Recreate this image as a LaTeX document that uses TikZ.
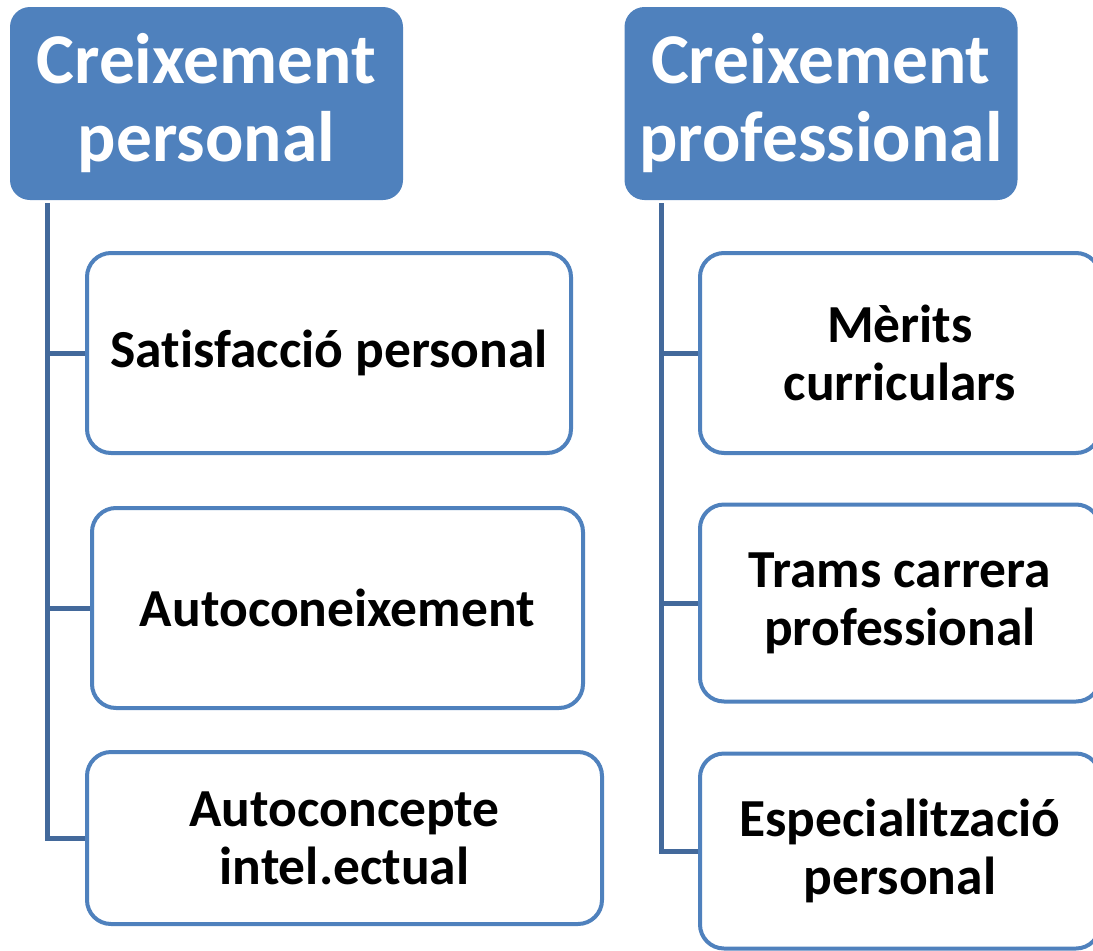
\documentclass[tikz,border=0pt]{standalone}
\usepackage{fontspec}
\setmainfont{Carlito}[Ligatures={NoCommon}]
\definecolor{hdr}{HTML}{4F81BD}
\definecolor{edge}{HTML}{4F81BD}
\definecolor{conn}{HTML}{43699B}
\begin{document}
\begin{tikzpicture}[x=1pt,y=-1pt,
  header/.style={fill=hdr,draw=none,rounded corners=20pt,text=white,
    font=\fontsize{71.5}{78}\selectfont\bfseries,align=center,inner sep=0pt,
    minimum width=393pt,minimum height=193pt},
  item/.style={draw=edge,line width=4pt,fill=white,rounded corners=24pt,
    font=\fontsize{53.5}{58}\selectfont\bfseries,align=center,inner sep=0pt},
  link/.style={draw=conn,line width=5pt}]
\useasboundingbox (0,0) rectangle (1093,951);
\node[header] (h1) at (206.5,103.5) {Creixement\\personal};
\node[header] (h2) at (821,103.5) {Creixement\\professional};

\node[item,minimum width=484pt,minimum height=200pt] (b1) at (329,353) {Satisfacció personal};
\node[item,minimum width=491pt,minimum height=200pt] (b2) at (337.5,608) {Autoconeixement};
\node[item,minimum width=515pt,minimum height=172pt] (b3) at (344.5,838) {Autoconcepte\\intel.ectual};

\node[item,minimum width=400pt,minimum height=200pt] (b4) at (900,353) {Mèrits\\curriculars};
\node[item,minimum width=400pt,minimum height=197pt] (b5) at (900,603) {Trams carrera\\professional};
\node[item,minimum width=400pt,minimum height=195pt] (b6) at (900,851) {Especialització\\personal};

\coordinate (t1) at (47,203);
\coordinate (t2) at (661,203);
\draw[link] (t1) |- (b3.west);
\draw[link] (t1 |- b1.west) -- (b1.west);
\draw[link] (t1 |- b2.west) -- (b2.west);
\draw[link] (t2) |- (b6.west);
\draw[link] (t2 |- b4.west) -- (b4.west);
\draw[link] (t2 |- b5.west) -- (b5.west);
\end{tikzpicture}
\end{document}
